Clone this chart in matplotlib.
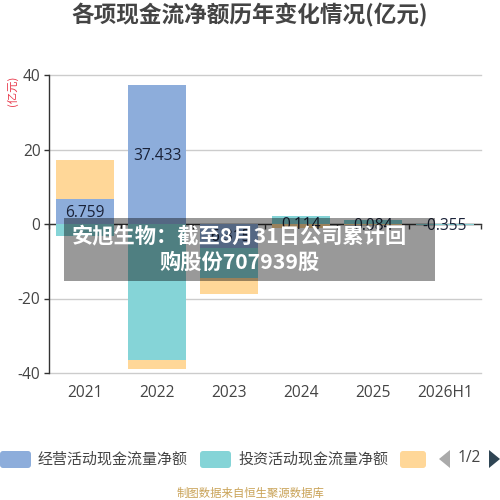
import numpy as np
import matplotlib
matplotlib.use("Agg")
import matplotlib.pyplot as plt
from matplotlib.patches import FancyBboxPatch, Rectangle, Polygon

plt.rcParams['font.family'] = ['Noto Sans CJK SC', 'DejaVu Sans']
plt.rcParams['axes.unicode_minus'] = False

title = "各项现金流净额历年变化情况(亿元)"
unit = "(亿元)"
categories = ["2021", "2022", "2023", "2024", "2025", "2026H1"]
series_names = ["经营活动现金流量净额", "投资活动现金流量净额", "筹资活动现金流量净额"]
operating = [6.759, 37.433, -6.315, 0.114, 0.084, 0.0]
investing = [-3.2, -36.5, -8.2, 2.0, 0.9, -0.355]
financing = [10.4, -2.5, -4.4, -1.0, -0.3, 0.0]
label_values = [6.759, 37.433, -6.315, 0.114, 0.084, -0.355]
y_ticks = [-40, -20, 0, 20, 40]
overlay_lines = ["安旭生物：截至8月31日公司累计回", "购股份707939股"]
footer = "制图数据来自恒生聚源数据库"
page_label = "1/2"

colors = ["#8DADDB", "#85D4D7", "#FFD798"]
latin = ['Open Sans', 'Noto Sans CJK SC']
W = H = 500


def fx(px):
    return px / W


def fy(px):
    return 1 - px / H


fig = plt.figure(figsize=(5, 5), dpi=100, facecolor="white")
ax = fig.add_axes([fx(49), fy(373), fx(481) - fx(49), fy(75) - fy(373)])

x = np.arange(len(categories))
pos = np.zeros(len(categories))
neg = np.zeros(len(categories))
for vals, col in zip([operating, investing, financing], colors):
    vals = np.array(vals)
    bottoms = np.where(vals >= 0, pos, neg)
    ax.bar(x, vals, bottom=bottoms, width=58 / 72, color=col, linewidth=0, zorder=3)
    pos += np.where(vals >= 0, vals, 0)
    neg += np.where(vals < 0, vals, 0)

for xi, v in zip(x, label_values):
    ax.annotate(f"{v:.3f}", (xi, v / 2), xytext=(0, -1.2), textcoords="offset points",
                ha="center", va="center", fontsize=11.2,
                color="#1a2238", family=latin, zorder=5)

ax.set_xlim(-0.5, len(categories) - 0.5)
ax.set_ylim(-40, 40)
ax.set_yticks(y_ticks)
ax.grid(axis="y", color="#cccccc", linewidth=1, zorder=0, clip_on=False)
ax.set_axisbelow(True)
for side in ["top", "right"]:
    ax.spines[side].set_visible(False)
ax.spines["left"].set_color("#333333")
ax.spines["left"].set_linewidth(1)
ax.spines["bottom"].set_position(("data", 0))
ax.spines["bottom"].set_color("#333333")
ax.spines["bottom"].set_linewidth(1)
ax.spines["bottom"].set_zorder(2)

ax.set_xticks(np.arange(len(categories) + 1) - 0.5)
ax.set_xticklabels([])
ax.set_xticks(x, minor=True)
ax.set_xticklabels(categories, minor=True, family=latin)
ax.tick_params(axis="x", which="major", length=3.6, width=1, color="#333333")
ax.tick_params(axis="x", which="minor", length=0, pad=116, labelsize=11.2, labelcolor="#444444")
ax.tick_params(axis="y", length=3.6, width=1, color="#333333", labelsize=11.2,
               labelcolor="#444444", pad=2.5)
for lab in ax.get_yticklabels():
    lab.set_family(latin)
for line in ax.get_ygridlines():
    line.set_clip_on(False)

fig.text(fx(12), fy(91), unit, rotation=90, ha="center", va="center", fontsize=8.2, color="#e8384a")
fig.text(fx(250), fy(15), title, ha="center", va="center", fontsize=16.3,
         fontweight="bold", color="#444444")

# grey caption band over the plot
fig.add_artist(Rectangle((fx(64), fy(281)), fx(435) - fx(64), fy(218) - fy(281),
                         transform=fig.transFigure, facecolor="black", alpha=0.4,
                         edgecolor="none", zorder=10))
for line, py in zip(overlay_lines, [236, 262]):
    fig.text(fx(239), fy(py), line, ha="center", va="center",
             fontsize=15.3, fontweight="bold", color="white", zorder=11)

# legend
for left, right, col in [(0, 31, colors[0]), (200, 231, colors[1]), (400, 426, colors[2])]:
    fig.add_artist(FancyBboxPatch((fx(left) + 0.006, fy(468) + 0.006),
                                  fx(right) - fx(left) - 0.012, fy(451) - fy(468) - 0.012,
                                  boxstyle="round,pad=0.006", transform=fig.transFigure,
                                  facecolor=col, edgecolor="none"))
for left, name in [(38, series_names[0]), (238, series_names[1])]:
    fig.text(fx(left), fy(459), name, ha="left", va="center", fontsize=10.8, color="#444444")
fig.add_artist(Polygon([(fx(450), fy(450)), (fx(450), fy(468)), (fx(439), fy(459))],
                       transform=fig.transFigure, facecolor="#aaaaaa", edgecolor="none"))
fig.add_artist(Polygon([(fx(489), fy(450)), (fx(489), fy(468)), (fx(500), fy(459))],
                       transform=fig.transFigure, facecolor="#2f4554", edgecolor="none"))
fig.text(fx(469.5), fy(458), page_label, ha="center", va="center", fontsize=11.2,
         color="#444444", family=latin)
fig.text(fx(250), fy(493), footer, ha="center", va="center", fontsize=8.2, color="#c9a256")

fig.savefig("out.png", dpi=100)
